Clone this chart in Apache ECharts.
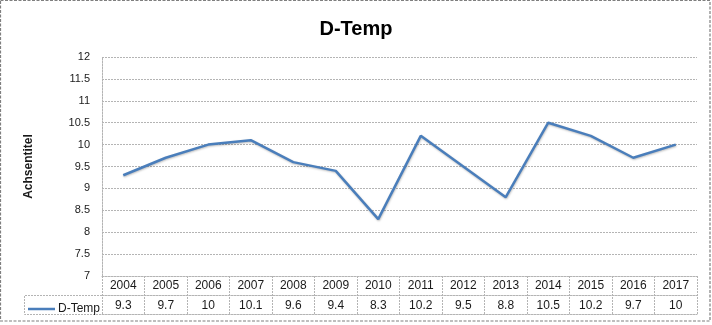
<!DOCTYPE html>
<html>
<head>
<meta charset="utf-8">
<script src="https://cdn.jsdelivr.net/npm/echarts@6/dist/echarts.min.js"></script>
<style>
  html, body { margin: 0; padding: 0; background: #fff; }
  #chart { width: 712px; height: 325px; }
</style>
</head>
<body>
<div id="chart"></div>
<script>
// Annual mean temperature series
const years = ['2004','2005','2006','2007','2008','2009','2010','2011','2012','2013','2014','2015','2016','2017'];
const dTemp = [9.3, 9.7, 10, 10.1, 9.6, 9.4, 8.3, 10.2, 9.5, 8.8, 10.5, 10.2, 9.7, 10];
const seriesName = 'D-Temp';
const yMin = 7, yMax = 12, yStep = 0.5;

const FONT = 'Liberation Sans, Arial, sans-serif';
const TEXT = '#1a1a1a';
const GRID_COLOR = '#b4b4b4';
const LINE_COLOR = '#4a7ebb';

const gridLeft = 102, gridRight = 15, gridTop = 57, gridBottom = 49;
const rowH = 19;

const chart = echarts.init(document.getElementById('chart'), null, { renderer: 'canvas' });

const tableAxisBase = {
  type: 'category',
  data: years,
  position: 'bottom',
  boundaryGap: true,
  axisTick: { show: false },
  splitLine: { show: false }
};

chart.setOption({
  animation: false,
  backgroundColor: '#fff',
  title: {
    text: 'D-Temp',
    left: 'center',
    top: 14,
    textStyle: { fontFamily: FONT, fontSize: 20, fontWeight: 'bold', color: '#000' }
  },
  legend: {
    left: 23,
    top: 298,
    itemWidth: 27,
    itemHeight: 2.5,
    itemGap: 0,
    icon: 'rect',
    data: [seriesName],
    textStyle: { fontFamily: FONT, fontSize: 12, color: TEXT, padding: [0, 0, 0, -2] }
  },
  grid: { left: gridLeft, right: gridRight, top: gridTop, bottom: gridBottom, containLabel: false },
  xAxis: [
    Object.assign({}, tableAxisBase, {
      // year row; ticks reach through both table rows as cell dividers
      axisLine: { show: true, lineStyle: { color: GRID_COLOR, width: 1, type: [2, 1] } },
      axisTick: { show: true, length: rowH * 2, lineStyle: { color: GRID_COLOR, type: [2, 1] } },
      axisLabel: { margin: 4, fontFamily: FONT, fontSize: 12, color: TEXT }
    }),
    Object.assign({}, tableAxisBase, {
      // value row
      offset: rowH,
      axisLine: { show: true, lineStyle: { color: GRID_COLOR, width: 1, type: [2, 1] } },
      axisLabel: {
        margin: 4.5, fontFamily: FONT, fontSize: 12, color: TEXT,
        formatter: (v, i) => String(dTemp[i])
      }
    }),
    Object.assign({}, tableAxisBase, {
      // bottom edge of the table
      offset: rowH * 2,
      axisLine: { show: true, lineStyle: { color: GRID_COLOR, width: 1, type: [2, 1] } },
      axisLabel: { show: false }
    })
  ],
  yAxis: {
    type: 'value',
    min: yMin,
    max: yMax,
    interval: yStep,
    name: 'Achsentitel',
    nameLocation: 'middle',
    nameRotate: 90,
    nameGap: 67,
    nameTextStyle: { fontFamily: FONT, fontSize: 12, fontWeight: 'bold', color: TEXT },
    axisLine: { show: true, lineStyle: { color: GRID_COLOR, width: 1, type: [2, 1] } },
    axisTick: { show: false },
    axisLabel: {
      margin: 12, fontFamily: FONT, fontSize: 11, color: TEXT,
      formatter: v => String(v)
    },
    splitLine: { show: true, lineStyle: { color: GRID_COLOR, width: 1, type: [2, 1] } }
  },
  series: [{
    name: seriesName,
    type: 'line',
    xAxisIndex: 0,
    data: dTemp,
    showSymbol: false,
    symbol: 'none',
    lineStyle: {
      color: LINE_COLOR, width: 2.5,
      shadowColor: 'rgba(0,0,0,0.25)', shadowBlur: 2, shadowOffsetX: 0.5, shadowOffsetY: 1
    },
    itemStyle: { color: LINE_COLOR }
  }],
  graphic: []
});

// Legend cell of the data table and the outer chart frame
function drawFrame() {
  const yAxisLineX = gridLeft;
  const tableTop = 325 - gridBottom;
  const r1 = tableTop + rowH, r2 = tableTop + rowH * 2;
  const legendLeft = 24;
  const dash = [2, 1];
  chart.setOption({
    graphic: [
      { type: 'polyline', shape: { points: [[yAxisLineX, r1 + 0.5], [legendLeft + 0.5, r1 + 0.5], [legendLeft + 0.5, r2 + 0.5], [yAxisLineX, r2 + 0.5]] },
        style: { stroke: GRID_COLOR, fill: null, lineWidth: 1, lineDash: dash }, silent: true },
      { type: 'rect', shape: { x: 0.5, y: 0.5, width: 709.5, height: 320.5 },
        style: { stroke: '#7f7f7f', fill: null, lineWidth: 1.2, lineDash: [3, 1.5] }, silent: true }
    ]
  });
}
drawFrame();
</script>
</body>
</html>
